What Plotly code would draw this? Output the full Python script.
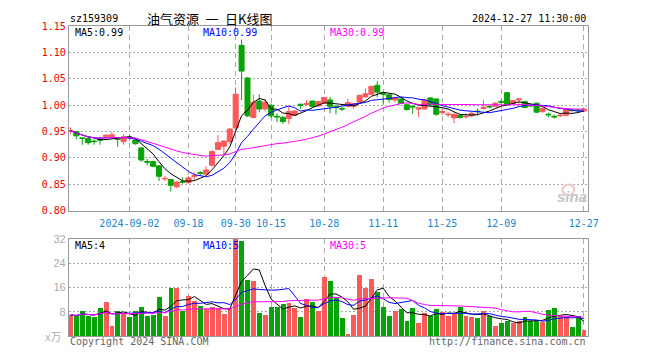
import plotly.graph_objects as go
import pandas as pd

# ---------------- data ----------------
dates = [
    "2024-08-19", "2024-08-20", "2024-08-21", "2024-08-22", "2024-08-23",
    "2024-08-26", "2024-08-27", "2024-08-28", "2024-08-29", "2024-08-30",
    "2024-09-02", "2024-09-03", "2024-09-04", "2024-09-05", "2024-09-06",
    "2024-09-09", "2024-09-10", "2024-09-11", "2024-09-12", "2024-09-13",
    "2024-09-18", "2024-09-19", "2024-09-20",
    "2024-09-23", "2024-09-24", "2024-09-25", "2024-09-26", "2024-09-27",
    "2024-09-30",
    "2024-10-08", "2024-10-09", "2024-10-10", "2024-10-11",
    "2024-10-14", "2024-10-15", "2024-10-16", "2024-10-17", "2024-10-18",
    "2024-10-21", "2024-10-22", "2024-10-23", "2024-10-24", "2024-10-25",
    "2024-10-28", "2024-10-29", "2024-10-30", "2024-10-31", "2024-11-01",
    "2024-11-04", "2024-11-05", "2024-11-06", "2024-11-07", "2024-11-08",
    "2024-11-11", "2024-11-12", "2024-11-13", "2024-11-14", "2024-11-15",
    "2024-11-18", "2024-11-19", "2024-11-20", "2024-11-21", "2024-11-22",
    "2024-11-25", "2024-11-26", "2024-11-27", "2024-11-28", "2024-11-29",
    "2024-12-02", "2024-12-03", "2024-12-04", "2024-12-05", "2024-12-06",
    "2024-12-09", "2024-12-10", "2024-12-11", "2024-12-12", "2024-12-13",
    "2024-12-16", "2024-12-17", "2024-12-18", "2024-12-19", "2024-12-20",
    "2024-12-23", "2024-12-24", "2024-12-25", "2024-12-26", "2024-12-27",
]

open_ = [
    0.951, 0.950, 0.938, 0.937, 0.932, 0.935, 0.941, 0.940, 0.936, 0.931,
    0.940, 0.934, 0.919, 0.893, 0.893, 0.885, 0.860, 0.859, 0.845, 0.855,
    0.853, 0.865, 0.872, 0.869, 0.886, 0.916, 0.922, 0.931, 0.957,
    1.114, 1.052, 0.977, 1.008, 0.993, 1.000, 0.979, 0.977, 0.975,
    0.981, 1.002, 1.002, 1.008, 0.999, 1.004, 1.010, 0.997, 0.994, 0.998,
    0.998, 1.006, 1.016, 1.021, 1.038, 1.024, 1.020, 1.010, 1.012, 1.001,
    0.998, 0.993, 0.993, 1.014, 1.012, 0.986, 0.982, 0.976, 0.981, 0.978,
    0.980, 0.989, 0.994, 0.998, 0.998, 1.007, 1.024, 1.004, 1.010, 1.007,
    1.000, 1.004, 0.988, 0.983, 0.979, 0.980, 0.981, 0.991, 0.991, 0.989,
]
high = [
    0.958, 0.951, 0.939, 0.939, 0.935, 0.940, 0.945, 0.949, 0.937, 0.945,
    0.944, 0.938, 0.920, 0.898, 0.895, 0.886, 0.866, 0.860, 0.856, 0.863,
    0.865, 0.873, 0.875, 0.884, 0.915, 0.944, 0.934, 0.956, 1.034,
    1.125, 1.053, 1.020, 1.021, 1.012, 1.003, 0.985, 0.980, 0.997,
    0.991, 1.003, 1.010, 1.009, 1.008, 1.016, 1.016, 1.001, 0.996, 1.012,
    1.004, 1.020, 1.032, 1.037, 1.046, 1.026, 1.022, 1.016, 1.013, 1.003,
    1.000, 0.996, 1.012, 1.016, 1.013, 0.993, 0.988, 0.986, 0.983, 0.985,
    0.987, 0.994, 1.010, 1.000, 1.006, 1.011, 1.025, 1.010, 1.013, 1.009,
    1.002, 1.005, 0.996, 0.986, 0.982, 0.984, 0.994, 0.993, 0.993, 0.994,
]
low = [
    0.946, 0.935, 0.925, 0.925, 0.925, 0.925, 0.939, 0.938, 0.921, 0.925,
    0.933, 0.925, 0.893, 0.886, 0.882, 0.856, 0.856, 0.836, 0.843, 0.851,
    0.852, 0.856, 0.866, 0.868, 0.884, 0.915, 0.906, 0.927, 0.955,
    1.010, 0.978, 0.975, 0.987, 0.988, 0.976, 0.968, 0.965, 0.964,
    0.980, 0.993, 0.999, 0.996, 0.997, 1.003, 0.985, 0.983, 0.989, 0.997,
    0.993, 1.004, 1.014, 1.019, 1.015, 1.001, 1.005, 1.006, 1.002, 0.990,
    0.984, 0.978, 0.992, 0.999, 0.980, 0.982, 0.978, 0.966, 0.975, 0.975,
    0.978, 0.980, 0.992, 0.994, 0.997, 1.001, 1.000, 1.002, 1.003, 0.994,
    0.997, 0.985, 0.986, 0.977, 0.975, 0.978, 0.979, 0.988, 0.988, 0.987,
]
close = [
    0.952, 0.942, 0.937, 0.929, 0.931, 0.934, 0.943, 0.944, 0.935, 0.940,
    0.939, 0.927, 0.896, 0.892, 0.884, 0.865, 0.861, 0.848, 0.854, 0.854,
    0.862, 0.866, 0.871, 0.877, 0.912, 0.929, 0.932, 0.955, 1.021,
    1.065, 0.980, 1.006, 0.993, 1.006, 0.980, 0.978, 0.969, 0.988,
    0.989, 1.000, 1.003, 0.998, 1.007, 1.015, 0.998, 0.996, 0.993, 1.005,
    1.003, 1.019, 1.022, 1.036, 1.025, 1.021, 1.011, 1.014, 1.004, 0.992,
    0.997, 0.995, 1.010, 1.001, 0.983, 0.988, 0.983, 0.983, 0.977, 0.979,
    0.985, 0.988, 0.996, 0.997, 1.004, 1.006, 1.001, 1.009, 1.012, 0.996,
    0.999, 0.987, 0.994, 0.982, 0.978, 0.981, 0.992, 0.990, 0.990, 0.993,
]
volume = [
    6.9, 6.6, 8.2, 6.6, 6.3, 9.1, 11.1, 3.4, 8.2, 7.7,
    6.4, 8.2, 9.7, 6.6, 6.8, 12.7, 6.6, 15.9, 15.9, 8.2,
    13.3, 11.7, 9.8, 9.0, 9.5, 9.1, 7.4, 9.3, 33.0,
    31.5, 18.6, 18.1, 7.7, 6.9, 9.5, 9.5, 10.6, 10.9,
    9.1, 6.1, 12.3, 11.1, 8.2, 19.4, 18.1, 12.5, 5.9, 0.4,
    6.9, 20.2, 15.7, 18.9, 14.4, 9.5, 6.6, 8.2, 9.0, 5.0,
    9.3, 4.2, 7.7, 6.6, 9.0, 8.0, 6.6, 7.1, 9.6, 6.6,
    6.1, 5.8, 8.2, 6.6, 3.4, 4.2, 4.8, 4.2, 4.8, 6.3,
    5.0, 5.0, 4.5, 8.7, 9.3, 6.5, 6.2, 3.1, 6.5, 1.8,
]

tick_dates = ["2024-09-02", "2024-09-18", "2024-09-30", "2024-10-15", "2024-10-28",
              "2024-11-11", "2024-11-25", "2024-12-09", "2024-12-27"]
tick_text = ["2024-09-02", "09-18", "09-30", "10-15", "10-28",
             "11-11", "11-25", "12-09", "12-27"]
price_ticks = [0.80, 0.85, 0.90, 0.95, 1.00, 1.05, 1.10, 1.15]
vol_ticks = [8, 16, 24, 32]

# ---------------- derived series ----------------
cs = pd.Series(close)
vs = pd.Series(volume)
ma_windows = [5, 10, 30]
ma_colors = ["#000000", "#0000ff", "#ff00ff"]
price_ma = [cs.rolling(n, min_periods=1).mean() for n in ma_windows]
vol_ma = [vs.rolling(n, min_periods=1).mean() for n in ma_windows]

RED = "#fa5a5a"
GREEN = "#08a308"
vol_colors = [RED if c >= o else GREEN for o, c in zip(open_, close)]

W, H = 660, 360
def px(x):
    return x / W
def py(y):
    return 1 - y / H

MONO = "DejaVu Sans Mono"

fig = go.Figure()
fig.add_trace(go.Candlestick(
    x=dates, open=open_, high=high, low=low, close=close,
    increasing=dict(line=dict(color=RED, width=1), fillcolor=RED),
    decreasing=dict(line=dict(color=GREEN, width=1), fillcolor=GREEN),
    whiskerwidth=0, xaxis="x", yaxis="y", showlegend=False, hoverinfo="skip",
))
for ma, col in zip(price_ma, ma_colors):
    fig.add_trace(go.Scatter(x=dates, y=ma, mode="lines", line=dict(color=col, width=1),
                             xaxis="x", yaxis="y", showlegend=False, hoverinfo="skip"))
fig.add_trace(go.Bar(x=dates, y=volume, marker=dict(color=vol_colors, line=dict(width=0)),
                     width=0.83, xaxis="x2", yaxis="y2", showlegend=False, hoverinfo="skip"))
for ma, col in zip(vol_ma, ma_colors):
    fig.add_trace(go.Scatter(x=dates, y=ma, mode="lines", line=dict(color=col, width=1),
                             xaxis="x2", yaxis="y2", showlegend=False, hoverinfo="skip"))

xr = [-0.28, len(dates) - 0.28]
common_x = dict(
    type="category", range=xr, domain=[px(70), px(598)],
    tickvals=tick_dates, showgrid=True, gridcolor="#aaaaaa", griddash="5px,4px",
    gridwidth=1, showline=True, mirror=True, linecolor="#999999", linewidth=1,
    ticks="", zeroline=False, fixedrange=True,
)
fig.update_layout(
    width=W, height=H, margin=dict(l=0, r=0, t=0, b=0),
    paper_bgcolor="white", plot_bgcolor="white",
    boxgap=0.15, boxgroupgap=0, bargap=0, showlegend=False,
    xaxis=dict(**common_x, anchor="y", ticktext=tick_text,
               tickfont=dict(family=MONO, size=10, color="#1a86d0"),
               ticklabelstandoff=3,
               rangeslider=dict(visible=False)),
    xaxis2=dict(**common_x, anchor="y2", matches="x", showticklabels=False),
    yaxis=dict(domain=[py(211), py(21)], range=[0.79995, 1.15005],
               tickvals=price_ticks, ticktext=[f"{v:.2f}" for v in price_ticks],
               tickfont=dict(family=MONO, size=10, color="#ee0000"),
               showgrid=True, gridcolor="#aaaaaa", griddash="2px,2px",
               showline=True, mirror=True, linecolor="#999999", linewidth=1,
               ticks="", zeroline=False, anchor="x", fixedrange=True),
    yaxis2=dict(domain=[py(340.3), py(240.3)], range=[0, 32],
                tickvals=vol_ticks, ticktext=[str(v) for v in vol_ticks],
                tickfont=dict(family="Liberation Sans", size=11, color="#aaaaaa"),
                showgrid=True, gridcolor="#aaaaaa", griddash="2px,2px",
                showline=True, mirror=True, linecolor="#999999", linewidth=1,
                ticks="", zeroline=False, anchor="x2", fixedrange=True),
)

def note(text, x, y, color="#000000", size=10, family=MONO, xanchor="left", **kw):
    fig.add_annotation(text=text, x=px(x), y=py(y), xref="paper", yref="paper",
                       showarrow=False, xanchor=xanchor, yanchor="middle",
                       font=dict(family=family, size=size, color=color), **kw)

note("sz159309", 69, 13)
note("油气资源\u2002一\u2002日K线图", 213, 13, size=13, family="Noto Sans CJK SC", xanchor="center")
note("2024-12-27 11:30:00", 598, 13, xanchor="right")
note("MA5:0.99", 74, 27, color="#000000")
note("MA10:0.99", 204, 27, color="#0000ff")
note("MA30:0.99", 334, 27, color="#ff00ff")
note("MA5:4", 74, 247, color="#000000")
note("MA10:5", 204, 247, color="#0000ff")
note("MA30:5", 334, 247, color="#ff00ff")
note("x万", 64, 340, color="#b0b0b0", size=11, family="Noto Sans CJK SC", xanchor="right")
note("Copyright 2024 SINA.COM", 69, 346, color="#666666")
note("http://finance.sina.com.cn", 598, 346, color="#666666", xanchor="right")
note("<b><i>sina</i></b>", 582, 197, color="#c4c4c4", size=15, family="Liberation Sans", xanchor="center")
fig.add_shape(type="circle", xref="paper", yref="paper",
              x0=px(572), x1=px(584), y0=py(195), y1=py(184),
              line=dict(color="#f2c4c4", width=2))

fig.write_html("out.html")
